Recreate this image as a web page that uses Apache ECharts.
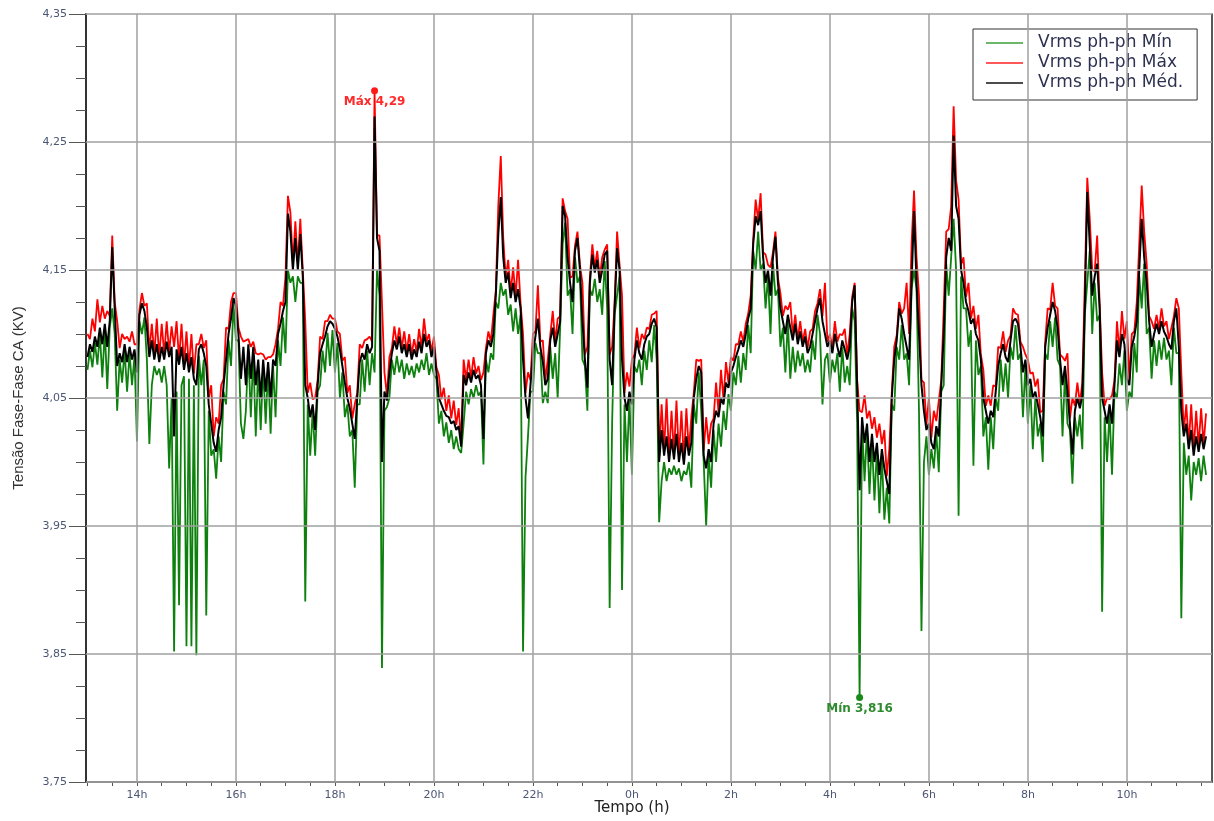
<!DOCTYPE html>
<html>
<head>
<meta charset="utf-8">
<title>Vrms ph-ph</title>
<script src="https://cdn.jsdelivr.net/npm/echarts@6/dist/echarts.min.js"></script>
<style>
  html, body { margin: 0; padding: 0; background: #ffffff; }
  #chart { width: 1214px; height: 821px; }
</style>
</head>
<body>
<div id="chart"></div>
<script>
// Phase-to-phase RMS voltage (kV), one reading every 3 minutes from 13:00.
const hourStart = 13.0;
const hourStep = 0.05;

const vMed = [
  4.082, 4.092, 4.086, 4.098, 4.090, 4.105, 4.092, 4.108, 4.090, 4.110,
  4.168, 4.120, 4.075, 4.085, 4.078, 4.092, 4.078, 4.090, 4.080, 4.088,
  4.070, 4.115, 4.124, 4.118, 4.105, 4.082, 4.095, 4.080, 4.092, 4.078,
  4.090, 4.080, 4.094, 4.082, 4.090, 4.020, 4.088, 4.076, 4.090, 4.072,
  4.085, 4.070, 4.082, 4.065, 4.060, 4.088, 4.092, 4.085, 4.075, 4.045,
  4.030, 4.015, 4.008, 4.025, 4.035, 4.060, 4.080, 4.100, 4.112, 4.128,
  4.122, 4.100, 4.065, 4.090, 4.060, 4.092, 4.065, 4.090, 4.060, 4.080,
  4.050, 4.080, 4.055, 4.078, 4.050, 4.080, 4.075, 4.100, 4.108, 4.118,
  4.125, 4.194, 4.180, 4.150, 4.175, 4.150, 4.178, 4.145, 4.060, 4.050,
  4.035, 4.045, 4.025, 4.060, 4.085, 4.092, 4.098, 4.106, 4.110, 4.108,
  4.104, 4.098, 4.088, 4.075, 4.062, 4.050, 4.042, 4.030, 4.018, 4.050,
  4.078, 4.085, 4.080, 4.092, 4.085, 4.090, 4.270, 4.175, 4.165, 4.000,
  4.055, 4.048, 4.070, 4.085, 4.095, 4.088, 4.098, 4.085, 4.092, 4.082,
  4.092, 4.080, 4.088, 4.082, 4.094, 4.085, 4.100, 4.090, 4.095, 4.082,
  4.090, 4.070, 4.050, 4.045, 4.040, 4.036, 4.035, 4.030, 4.032, 4.025,
  4.028, 4.012, 4.068, 4.060, 4.070, 4.062, 4.072, 4.065, 4.068, 4.060,
  4.018, 4.085, 4.095, 4.090, 4.100, 4.130, 4.178, 4.207, 4.160, 4.140,
  4.148, 4.128, 4.140, 4.125, 4.135, 4.120, 4.080, 4.050, 4.034, 4.060,
  4.085, 4.098, 4.112, 4.090, 4.078, 4.060, 4.065, 4.095, 4.105, 4.090,
  4.100, 4.110, 4.200, 4.192, 4.160, 4.140, 4.125, 4.165, 4.175, 4.150,
  4.110, 4.080, 4.058, 4.140, 4.162, 4.148, 4.158, 4.140, 4.150, 4.162,
  4.165, 4.080, 4.060, 4.120, 4.167, 4.150, 4.080, 4.050, 4.040, 4.055,
  4.045, 4.080, 4.095, 4.085, 4.080, 4.092, 4.098, 4.100, 4.108, 4.112,
  4.105, 4.000, 4.025, 4.005, 4.020, 4.000, 4.018, 4.002, 4.022, 4.000,
  4.015, 3.998, 4.020, 4.005, 4.015, 4.050, 4.065, 4.075, 4.070, 4.005,
  3.995, 4.010, 4.000, 4.030, 4.040, 4.035, 4.050, 4.045, 4.062, 4.058,
  4.070, 4.075, 4.082, 4.088, 4.095, 4.090, 4.100, 4.112, 4.120, 4.170,
  4.192, 4.185, 4.196, 4.160, 4.140, 4.150, 4.130, 4.160, 4.176, 4.140,
  4.120, 4.110, 4.100, 4.115, 4.105, 4.095, 4.108, 4.092, 4.102, 4.090,
  4.098, 4.085, 4.090, 4.100, 4.110, 4.120, 4.128, 4.110, 4.100, 4.090,
  4.095, 4.085, 4.100, 4.090, 4.082, 4.095, 4.088, 4.080, 4.090, 4.125,
  4.138, 4.060, 3.978, 4.035, 4.015, 4.030, 4.000, 4.022, 4.000, 4.015,
  3.990, 4.010, 3.995, 3.985, 3.975, 4.050, 4.080, 4.095, 4.120, 4.112,
  4.100, 4.090, 4.080, 4.140, 4.196, 4.140, 4.100, 4.060, 4.040, 4.025,
  4.030, 4.015, 4.010, 4.028, 4.020, 4.060, 4.100, 4.160, 4.175, 4.165,
  4.255, 4.200, 4.190, 4.150, 4.140, 4.125, 4.118, 4.108, 4.112, 4.100,
  4.095, 4.080, 4.050, 4.040, 4.030, 4.040, 4.035, 4.055, 4.075, 4.085,
  4.092, 4.082, 4.078, 4.095, 4.110, 4.112, 4.108, 4.090, 4.070, 4.080,
  4.060, 4.065, 4.050, 4.055, 4.045, 4.035, 4.020, 4.090, 4.105, 4.115,
  4.125, 4.118, 4.105, 4.080, 4.060, 4.075, 4.055, 4.030, 4.006, 4.040,
  4.050, 4.042, 4.052, 4.120, 4.211, 4.170, 4.130, 4.145, 4.155, 4.120,
  4.050, 4.040, 4.030, 4.045, 4.030, 4.060, 4.095, 4.082, 4.100, 4.092,
  4.065, 4.060, 4.090, 4.098, 4.110, 4.150, 4.190, 4.160, 4.140, 4.110,
  4.090, 4.100, 4.108, 4.100, 4.110, 4.102, 4.098, 4.092, 4.088, 4.110,
  4.120, 4.090, 4.040, 4.020, 4.030, 4.010, 4.025, 4.005, 4.020, 4.008,
  4.022, 4.010, 4.020
];

const vMax = [
  4.100, 4.096, 4.112, 4.102, 4.127, 4.109, 4.122, 4.112, 4.118, 4.114,
  4.177, 4.125, 4.110, 4.089, 4.100, 4.096, 4.098, 4.094, 4.102, 4.092,
  4.092, 4.119, 4.132, 4.122, 4.124, 4.086, 4.108, 4.084, 4.112, 4.082,
  4.108, 4.084, 4.110, 4.086, 4.106, 4.090, 4.110, 4.080, 4.108, 4.076,
  4.102, 4.074, 4.100, 4.069, 4.092, 4.092, 4.100, 4.089, 4.095, 4.050,
  4.060, 4.020, 4.035, 4.030, 4.060, 4.065, 4.105, 4.104, 4.125, 4.132,
  4.132, 4.105, 4.098, 4.094, 4.095, 4.096, 4.090, 4.094, 4.085, 4.084,
  4.085, 4.084, 4.080, 4.082, 4.082, 4.084, 4.092, 4.104, 4.125, 4.122,
  4.145, 4.208, 4.195, 4.155, 4.188, 4.155, 4.190, 4.150, 4.110, 4.054,
  4.062, 4.049, 4.050, 4.064, 4.098, 4.096, 4.110, 4.110, 4.115, 4.112,
  4.112, 4.102, 4.100, 4.079, 4.082, 4.054, 4.060, 4.034, 4.045, 4.054,
  4.092, 4.089, 4.095, 4.096, 4.098, 4.094, 4.290, 4.177, 4.177, 4.124,
  4.070, 4.052, 4.082, 4.089, 4.106, 4.092, 4.105, 4.089, 4.102, 4.086,
  4.100, 4.084, 4.096, 4.086, 4.104, 4.089, 4.112, 4.094, 4.100, 4.086,
  4.098, 4.074, 4.068, 4.049, 4.058, 4.040, 4.052, 4.034, 4.048, 4.029,
  4.042, 4.016, 4.080, 4.064, 4.080, 4.066, 4.082, 4.069, 4.075, 4.064,
  4.070, 4.089, 4.102, 4.094, 4.115, 4.134, 4.200, 4.239, 4.175, 4.144,
  4.158, 4.132, 4.152, 4.129, 4.158, 4.124, 4.100, 4.054, 4.070, 4.064,
  4.100, 4.102, 4.138, 4.094, 4.095, 4.064, 4.080, 4.099, 4.118, 4.094,
  4.112, 4.114, 4.206, 4.196, 4.190, 4.144, 4.145, 4.169, 4.180, 4.154,
  4.140, 4.084, 4.090, 4.144, 4.170, 4.152, 4.165, 4.144, 4.160, 4.166,
  4.170, 4.084, 4.090, 4.124, 4.180, 4.154, 4.130, 4.054, 4.070, 4.059,
  4.080, 4.084, 4.105, 4.089, 4.100, 4.096, 4.105, 4.104, 4.115, 4.116,
  4.118, 4.004, 4.045, 4.009, 4.050, 4.004, 4.040, 4.006, 4.048, 4.004,
  4.040, 4.002, 4.042, 4.009, 4.035, 4.054, 4.080, 4.079, 4.080, 4.009,
  4.035, 4.014, 4.030, 4.034, 4.062, 4.039, 4.072, 4.049, 4.078, 4.062,
  4.082, 4.079, 4.092, 4.092, 4.102, 4.094, 4.108, 4.116, 4.130, 4.174,
  4.205, 4.189, 4.210, 4.164, 4.162, 4.154, 4.152, 4.164, 4.180, 4.144,
  4.132, 4.114, 4.122, 4.119, 4.125, 4.099, 4.115, 4.096, 4.110, 4.094,
  4.104, 4.089, 4.102, 4.104, 4.118, 4.124, 4.135, 4.114, 4.140, 4.094,
  4.100, 4.089, 4.110, 4.094, 4.100, 4.099, 4.104, 4.084, 4.100, 4.129,
  4.140, 4.064, 4.040, 4.039, 4.052, 4.034, 4.040, 4.026, 4.035, 4.019,
  4.030, 4.014, 4.025, 3.989, 4.010, 4.054, 4.090, 4.099, 4.125, 4.116,
  4.120, 4.140, 4.100, 4.170, 4.212, 4.160, 4.130, 4.064, 4.062, 4.029,
  4.050, 4.019, 4.040, 4.032, 4.048, 4.064, 4.120, 4.180, 4.182, 4.200,
  4.278, 4.220, 4.205, 4.154, 4.160, 4.129, 4.140, 4.112, 4.122, 4.104,
  4.115, 4.084, 4.072, 4.044, 4.052, 4.044, 4.060, 4.059, 4.090, 4.089,
  4.102, 4.086, 4.095, 4.099, 4.120, 4.116, 4.115, 4.094, 4.090, 4.084,
  4.080, 4.069, 4.070, 4.059, 4.065, 4.039, 4.040, 4.094, 4.120, 4.119,
  4.140, 4.122, 4.120, 4.084, 4.082, 4.079, 4.085, 4.034, 4.050, 4.044,
  4.062, 4.046, 4.062, 4.140, 4.222, 4.190, 4.150, 4.149, 4.177, 4.124,
  4.070, 4.044, 4.050, 4.049, 4.052, 4.064, 4.110, 4.086, 4.118, 4.096,
  4.110, 4.064, 4.100, 4.102, 4.125, 4.170, 4.216, 4.180, 4.155, 4.114,
  4.110, 4.104, 4.115, 4.104, 4.120, 4.106, 4.110, 4.096, 4.105, 4.114,
  4.128, 4.120, 4.070, 4.024, 4.045, 4.014, 4.045, 4.009, 4.040, 4.012,
  4.042, 4.014, 4.038
];

const vMin = [
  4.072, 4.087, 4.074, 4.093, 4.076, 4.100, 4.066, 4.103, 4.057, 4.105,
  4.120, 4.100, 4.040, 4.080, 4.062, 4.087, 4.055, 4.085, 4.060, 4.083,
  4.016, 4.110, 4.100, 4.113, 4.080, 4.014, 4.060, 4.075, 4.068, 4.073,
  4.062, 4.075, 4.060, 3.995, 4.050, 3.852, 4.055, 3.888, 4.060, 4.067,
  3.856, 4.065, 3.856, 4.060, 3.849, 4.083, 4.060, 4.080, 3.880, 4.040,
  4.005, 4.010, 3.987, 4.020, 4.000, 4.055, 4.045, 4.095, 4.075, 4.123,
  4.095, 4.095, 4.030, 4.018, 4.040, 4.087, 4.035, 4.085, 4.020, 4.075,
  4.025, 4.075, 4.030, 4.073, 4.022, 4.075, 4.035, 4.095, 4.075, 4.113,
  4.085, 4.150, 4.140, 4.145, 4.125, 4.145, 4.140, 4.140, 3.891, 4.045,
  4.005, 4.040, 4.005, 4.055, 4.060, 4.087, 4.070, 4.101, 4.075, 4.103,
  4.070, 4.093, 4.050, 4.070, 4.035, 4.045, 4.020, 4.025, 3.980, 4.045,
  4.045, 4.080, 4.055, 4.087, 4.060, 4.085, 4.070, 4.150, 4.130, 3.839,
  4.040, 4.043, 4.050, 4.080, 4.068, 4.083, 4.070, 4.080, 4.065, 4.077,
  4.068, 4.075, 4.066, 4.077, 4.070, 4.080, 4.072, 4.085, 4.068, 4.077,
  4.068, 4.065, 4.030, 4.040, 4.020, 4.031, 4.015, 4.025, 4.010, 4.020,
  4.010, 4.007, 4.030, 4.055, 4.045, 4.057, 4.050, 4.060, 4.052, 4.055,
  3.998, 4.080, 4.070, 4.085, 4.080, 4.125, 4.120, 4.140, 4.130, 4.135,
  4.115, 4.123, 4.102, 4.120, 4.100, 4.115, 3.852, 3.988, 4.020, 4.055,
  4.055, 4.093, 4.085, 4.085, 4.046, 4.055, 4.046, 4.090, 4.065, 4.085,
  4.050, 4.105, 4.170, 4.187, 4.130, 4.135, 4.100, 4.160, 4.140, 4.145,
  4.080, 4.075, 4.040, 4.135, 4.130, 4.143, 4.125, 4.135, 4.115, 4.157,
  4.120, 3.886, 4.030, 4.115, 4.130, 4.145, 3.900, 4.045, 4.000, 4.050,
  3.990, 4.075, 4.070, 4.080, 4.060, 4.087, 4.072, 4.095, 4.078, 4.107,
  4.080, 3.953, 3.985, 4.000, 3.985, 3.995, 3.990, 3.997, 3.990, 3.995,
  3.985, 3.993, 3.990, 4.000, 3.980, 4.045, 4.030, 4.070, 4.040, 4.000,
  3.950, 4.005, 3.980, 4.025, 4.000, 4.030, 4.012, 4.040, 4.025, 4.053,
  4.040, 4.070, 4.060, 4.083, 4.062, 4.085, 4.072, 4.107, 4.085, 4.165,
  4.150, 4.180, 4.150, 4.155, 4.120, 4.145, 4.100, 4.155, 4.130, 4.135,
  4.090, 4.105, 4.070, 4.110, 4.065, 4.090, 4.070, 4.087, 4.075, 4.085,
  4.070, 4.080, 4.070, 4.095, 4.080, 4.115, 4.100, 4.045, 4.080, 4.085,
  4.062, 4.080, 4.070, 4.085, 4.055, 4.090, 4.062, 4.075, 4.060, 4.120,
  4.110, 4.030, 3.816, 4.030, 3.985, 4.025, 3.975, 4.017, 3.970, 4.010,
  3.960, 4.005, 3.955, 3.980, 3.952, 4.045, 4.040, 4.090, 4.080, 4.107,
  4.080, 4.085, 4.060, 4.135, 4.150, 4.135, 4.040, 3.868, 4.000, 4.020,
  3.990, 4.010, 3.995, 4.023, 3.992, 4.055, 4.060, 4.155, 4.130, 4.160,
  4.190, 4.150, 3.958, 4.145, 4.120, 4.120, 4.090, 4.103, 3.997, 4.095,
  4.068, 4.075, 4.020, 4.035, 3.994, 4.035, 4.010, 4.050, 4.040, 4.080,
  4.055, 4.077, 4.050, 4.090, 4.080, 4.107, 4.080, 4.085, 4.035, 4.075,
  4.030, 4.060, 4.010, 4.050, 4.020, 4.030, 4.000, 4.085, 4.080, 4.110,
  4.090, 4.113, 4.080, 4.075, 4.020, 4.070, 4.030, 4.025, 3.983, 4.035,
  4.020, 4.037, 4.010, 4.115, 4.140, 4.165, 4.100, 4.140, 4.110, 4.115,
  3.883, 4.035, 4.000, 4.040, 3.990, 4.055, 4.050, 4.077, 4.060, 4.087,
  4.040, 4.055, 4.050, 4.093, 4.070, 4.145, 4.120, 4.155, 4.100, 4.105,
  4.065, 4.095, 4.075, 4.095, 4.080, 4.097, 4.080, 4.087, 4.060, 4.105,
  4.085, 4.085, 3.878, 4.015, 3.990, 4.005, 3.970, 4.000, 3.990, 4.003,
  3.985, 4.005, 3.990
];

// Axis ticks
const yTickLabels = [3.75, 3.85, 3.95, 4.05, 4.15, 4.25, 4.35];
const gridHours = [14, 16, 18, 20, 22, 24, 26, 28, 30, 32, 34];
const halfHours = [];
for (let h = 13; h <= 35.5; h += 0.5) halfHours.push(h);

const hours = vMed.map((_, i) => +(hourStart + i * hourStep).toFixed(3));
const pairs = vals => vals.map((v, i) => [hours[i], v]);
const comma = v => String(v).replace('.', ',');

const labelColor = '#4c5675';
const gridColor = '#a0a0a0';

const chart = echarts.init(document.getElementById('chart'), null, { renderer: 'canvas' });

chart.setOption({
  animation: false,
  backgroundColor: '#ffffff',
  grid: { left: 86, right: 2, top: 14, bottom: 39 },
  legend: {
    orient: 'vertical',
    left: 973,
    top: 29,
    icon: 'rect',
    itemWidth: 37,
    itemHeight: 1.5,
    itemGap: 0,
    padding: [4, 14, 7, 13],
    borderColor: '#333333',
    borderWidth: 1,
    backgroundColor: '#ffffff',
    selectedMode: false,
    textStyle: {
      fontFamily: 'DejaVu Sans',
      fontSize: 17,
      lineHeight: 20,
      color: '#2c3150',
      padding: [0, 0, 0, 10]
    },
    data: [
      { name: 'Vrms ph-ph Mín', itemStyle: { color: '#3aa03a' } },
      { name: 'Vrms ph-ph Máx', itemStyle: { color: '#ff2020' } },
      { name: 'Vrms ph-ph Méd.', itemStyle: { color: '#111111' } }
    ]
  },
  graphic: [{
    type: 'text',
    x: 632,
    y: 808,
    style: {
      text: 'Tempo (h)',
      align: 'center',
      verticalAlign: 'middle',
      fontFamily: 'DejaVu Sans',
      fontSize: 15,
      fill: '#222222'
    }
  }],
  xAxis: [{
    type: 'value',
    min: 12.97,
    max: 35.72,
    axisLine: { show: true, lineStyle: { color: '#3a3a3a', width: 1.5 } },
    axisTick: { show: true, customValues: halfHours, length: 4, lineStyle: { color: '#555555' } },
    axisLabel: {
      customValues: gridHours,
      formatter: v => (Math.round(v) % 24) + 'h',
      color: labelColor,
      fontFamily: 'DejaVu Sans',
      fontSize: 11,
      margin: 8
    },
    splitLine: { show: false }
  }],
  yAxis: [{
    type: 'value',
    min: 3.75,
    max: 4.35,
    position: 'left',
    axisLine: { show: true, lineStyle: { color: '#333333', width: 2 } },
    axisTick: { show: true, customValues: yTickLabels, length: 17, lineStyle: { color: '#555555' } },
    axisLabel: {
      customValues: yTickLabels,
      formatter: v => v.toFixed(2).replace('.', ','),
      color: labelColor,
      fontFamily: 'DejaVu Sans',
      fontSize: 11,
      margin: 19
    },
    splitLine: { show: false },
    name: 'Tensão Fase-Fase CA (KV)',
    nameLocation: 'middle',
    nameRotate: 90,
    nameGap: 60,
    nameTextStyle: { fontFamily: 'Liberation Sans', fontSize: 15, color: '#333333' }
  }, {
    type: 'value',
    min: 3.75,
    max: 4.35,
    interval: 0.025,
    position: 'left',
    axisLine: { show: false },
    axisTick: { show: true, length: 10, lineStyle: { color: '#555555' } },
    axisLabel: { show: false },
    splitLine: { show: false }
  }, {
    type: 'value',
    min: 3.75,
    max: 4.35,
    position: 'right',
    axisLine: { show: true, lineStyle: { color: '#222222', width: 1.5 } },
    axisTick: { show: false },
    axisLabel: { show: false },
    splitLine: { show: false }
  }],
  series: [{
    // background grid lines at the labelled hours and voltages
    type: 'line',
    data: [],
    z: 1,
    silent: true,
    markLine: {
      silent: true,
      animation: false,
      symbol: ['none', 'none'],
      label: { show: false },
      emphasis: { disabled: true },
      lineStyle: { color: gridColor, width: 1.5, type: 'solid' },
      data: gridHours.map(h => ({ xAxis: h })).concat(yTickLabels.map(v => ({ yAxis: v })))
    }
  }, {
    name: 'Vrms ph-ph Mín',
    type: 'line',
    data: pairs(vMin),
    symbol: 'none',
    color: '#0d800d',
    lineStyle: { color: '#0d800d', width: 1.8 },
    markPoint: {
      symbol: 'circle',
      symbolSize: 7,
      itemStyle: { color: '#178a17' },
      label: {
        show: true,
        position: 'bottom',
        distance: 2,
        formatter: p => 'Mín ' + comma(p.value),
        color: '#2e8b2e',
        fontFamily: 'DejaVu Sans',
        fontWeight: 'bold',
        fontSize: 12
      },
      data: [{ type: 'min', valueDim: 'y' }]
    }
  }, {
    name: 'Vrms ph-ph Máx',
    type: 'line',
    data: pairs(vMax),
    symbol: 'none',
    color: '#ff0000',
    lineStyle: { color: '#ff0000', width: 1.8 },
    markPoint: {
      symbol: 'circle',
      symbolSize: 7,
      itemStyle: { color: '#ff1a1a' },
      label: {
        show: true,
        position: 'bottom',
        distance: 2,
        formatter: p => 'Máx ' + comma(p.value),
        color: '#ff2a2a',
        fontFamily: 'DejaVu Sans',
        fontWeight: 'bold',
        fontSize: 12
      },
      data: [{ type: 'max', valueDim: 'y' }]
    }
  }, {
    name: 'Vrms ph-ph Méd.',
    type: 'line',
    data: pairs(vMed),
    symbol: 'none',
    color: '#000000',
    lineStyle: { color: '#000000', width: 2 }
  }]
});
</script>
</body>
</html>
